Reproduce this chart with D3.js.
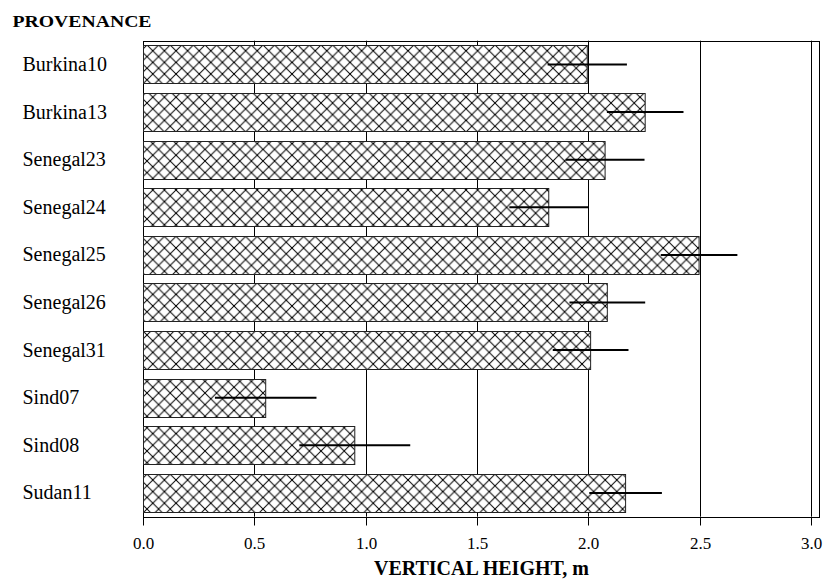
<!DOCTYPE html>
<html>
<head>
<meta charset="utf-8">
<script src="https://cdn.jsdelivr.net/npm/d3@7"></script>
<style>
  html, body { margin: 0; padding: 0; background: #fff; }
  svg { display: block; }
</style>
</head>
<body>
<div id="chart"></div>
<script>
// Mean vertical height (m) per provenance, with the spread shown by the whisker
const provenances = ["Burkina10", "Burkina13", "Senegal23", "Senegal24", "Senegal25",
                     "Senegal26", "Senegal31", "Sind07", "Sind08", "Sudan11"];
const heights = [1.995, 2.255, 2.075, 1.822, 2.497, 2.085, 2.010, 0.551, 0.951, 2.167];
const errors  = [0.178, 0.172, 0.177, 0.177, 0.172, 0.170, 0.170, 0.228, 0.249, 0.163];
const xTicks  = [0.0, 0.5, 1.0, 1.5, 2.0, 2.5, 3.0];
const xMax = 3.034;

const W = 825, H = 585;
const plot = { left: 143, top: 40.7, bottom: 516.7 };
const unit = 222.7; // px per metre

const svg = d3.select("#chart").append("svg")
  .attr("width", W).attr("height", H)
  .style("font-family", "'Liberation Serif', 'Times New Roman', serif");

const x = d3.scaleLinear().domain([0, xMax]).range([plot.left, plot.left + xMax * unit]);
const y = d3.scaleBand().domain(provenances)
  .range([plot.top, plot.bottom])
  .paddingInner(0.2).paddingOuter(0.1);

const rows = provenances.map((p, i) => ({ p, v: heights[i], e: errors[i] }));

// Diagonal cross-hatch fill
const p = 11.6;
const pat = svg.append("defs").append("pattern")
  .attr("id", "xhatch").attr("patternUnits", "userSpaceOnUse")
  .attr("width", p).attr("height", p).attr("x", plot.left + 4).attr("y", 45);
pat.append("rect").attr("width", p).attr("height", p).attr("fill", "#fff");
pat.append("path")
  .attr("d", `M0,0L${p},${p}M${p},0L0,${p}M${-p/2},${p/2}L${p/2},${p*1.5}M${p/2},${-p/2}L${p*1.5},${p/2}M${p/2},${-p/2}L${-p/2},${p/2}M${p*1.5},${p/2}L${p/2},${p*1.5}`)
  .attr("stroke", "#000").attr("stroke-width", 1).attr("fill", "none");

// Vertical gridlines
svg.append("g").selectAll("line").data(xTicks.filter(d => d > 0)).join("line")
  .attr("x1", d => Math.round(x(d)) + 0.5).attr("x2", d => Math.round(x(d)) + 0.5)
  .attr("y1", plot.top).attr("y2", plot.bottom)
  .attr("stroke", "#000").attr("stroke-width", 1);

// Plot frame
const x0 = Math.round(x(0)) + 0.5, x1 = Math.round(x(xMax)) + 0.5;
const yT = Math.round(plot.top) + 0.5, yB = Math.round(plot.bottom) + 0.5;
svg.append("rect")
  .attr("x", x0).attr("y", yT).attr("width", x1 - x0).attr("height", yB - yT)
  .attr("fill", "none").attr("stroke", "#000").attr("stroke-width", 1);

// Bars
svg.append("g").selectAll("rect").data(rows).join("rect")
  .attr("x", x0)
  .attr("y", d => Math.round(y(d.p)) + 0.5)
  .attr("width", d => x(d.v) - x0)
  .attr("height", Math.round(y.bandwidth()))
  .attr("fill", "url(#xhatch)")
  .attr("stroke", "#222").attr("stroke-width", 1);

// Error whiskers
svg.append("g").selectAll("line").data(rows).join("line")
  .attr("x1", d => x(d.v - d.e)).attr("x2", d => x(d.v + d.e))
  .attr("y1", d => y(d.p) + y.bandwidth() / 2)
  .attr("y2", d => y(d.p) + y.bandwidth() / 2)
  .attr("stroke", "#000").attr("stroke-width", 2);

// Bottom axis
const axis = d3.axisBottom(x).tickValues(xTicks).tickFormat(d3.format(".1f"))
  .tickSize(8).tickSizeOuter(0);
const gx = svg.append("g").attr("transform", `translate(0.5,${yB})`).call(axis);
gx.select(".domain").remove();
gx.selectAll(".tick line").attr("stroke", "#000").attr("x1", 0).attr("x2", 0)
  .attr("transform", function() { return null; });
gx.selectAll(".tick").attr("transform", d => `translate(${Math.round(x(d))},0)`);
gx.selectAll(".tick text")
  .attr("y", 31).attr("dy", 0)
  .attr("font-size", 17).attr("fill", "#000")
  .style("font-family", "'Liberation Serif', 'Times New Roman', serif");

// Category labels
svg.append("g").selectAll("text").data(rows).join("text")
  .attr("x", 22.5)
  .attr("y", d => y(d.p) + y.bandwidth() / 2 + 6.5)
  .attr("font-size", 20).attr("fill", "#000")
  .text(d => d.p);

// Titles
svg.append("text")
  .attr("x", 12.5).attr("y", 26.5)
  .attr("font-size", 17).attr("font-weight", "bold")
  .attr("textLength", 139).attr("lengthAdjust", "spacingAndGlyphs")
  .text("PROVENANCE");

svg.append("text")
  .attr("x", (x0 + x1) / 2).attr("y", 575)
  .attr("text-anchor", "middle")
  .attr("font-size", 20).attr("font-weight", "bold")
  .text("VERTICAL HEIGHT, m");
</script>
</body>
</html>
